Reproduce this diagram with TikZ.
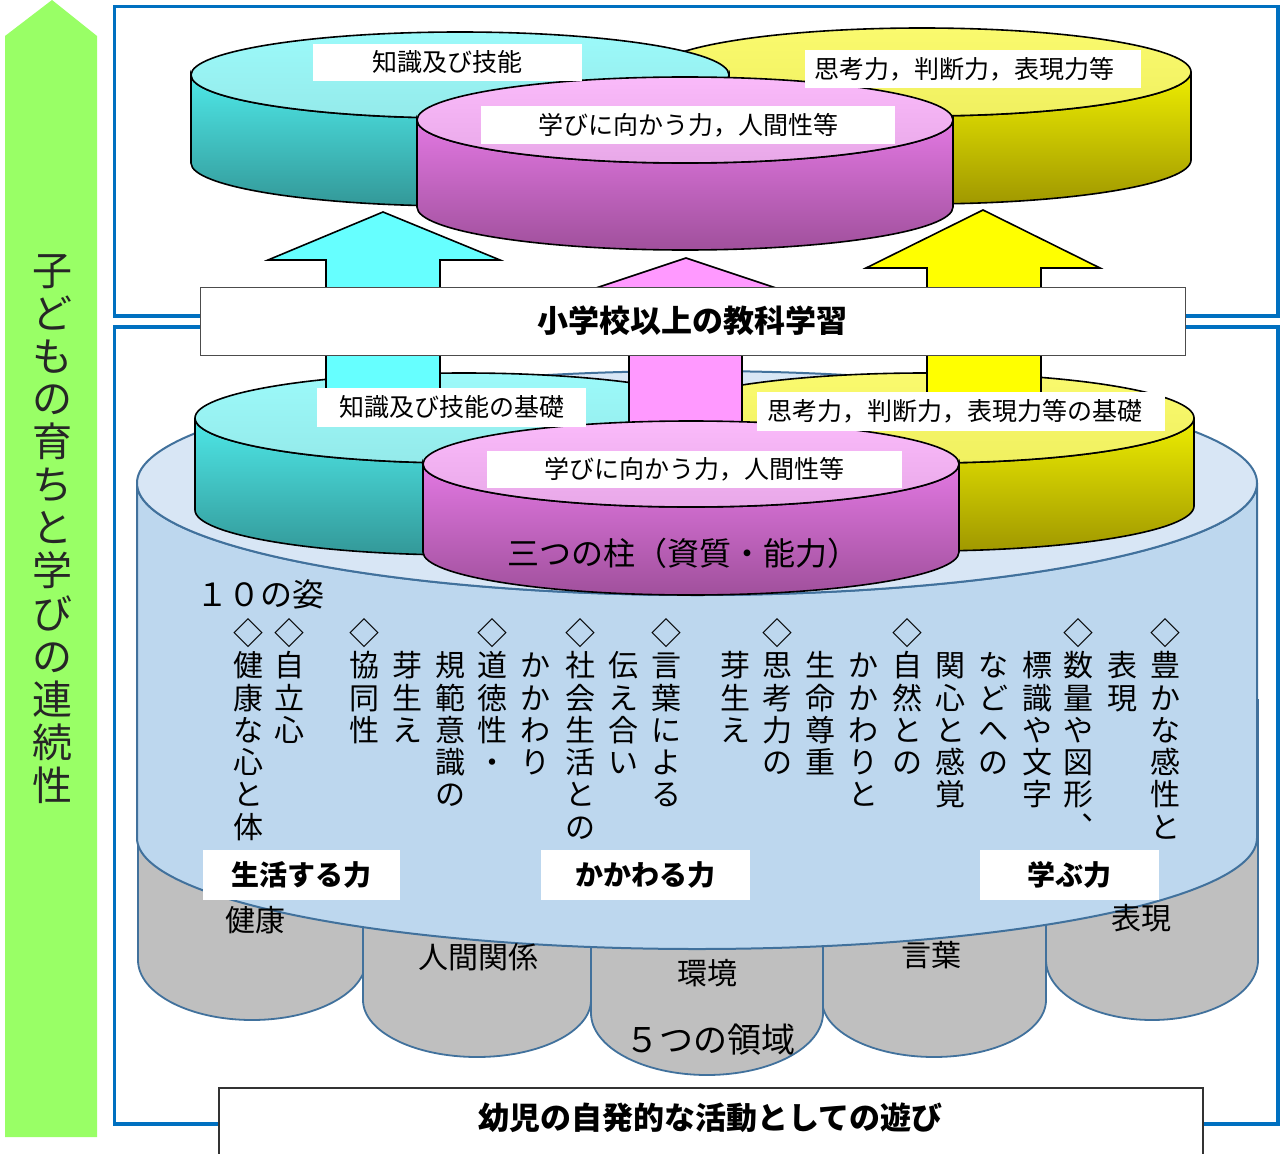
\documentclass[tikz,border=0pt]{standalone}
\usepackage{fontspec}
\setmainfont{Noto Sans CJK JP}
\definecolor{frameblue}{HTML}{0070C0}
\definecolor{cylblue}{HTML}{41719C}
\definecolor{bigtop}{HTML}{D8E6F5}
\definecolor{bigside}{HTML}{BDD7EE}
\definecolor{greyc}{HTML}{BFBFBF}
\definecolor{greenar}{HTML}{99FF66}
\definecolor{cyTa}{HTML}{9CFAFA}\definecolor{cyTb}{HTML}{94EAEA}
\definecolor{cySa}{HTML}{4EE8E8}\definecolor{cySb}{HTML}{339898}
\definecolor{yeTa}{HTML}{FAFA6E}\definecolor{yeTb}{HTML}{F0F060}
\definecolor{yeSa}{HTML}{EEEE00}\definecolor{yeSb}{HTML}{A09800}
\definecolor{maTa}{HTML}{FABAFA}\definecolor{maTb}{HTML}{E8A8E8}
\definecolor{maSa}{HTML}{E278E2}\definecolor{maSb}{HTML}{A0509C}
\definecolor{arcy}{HTML}{66FFFF}
\definecolor{arma}{HTML}{FF99FF}
\definecolor{arye}{HTML}{FFFF00}
\newcommand\mycyl[9]{%
  \path[draw=black,line width=1.6pt,top color=#8,bottom color=#9]
    ({#1-#3},#2) -- ({#1-#3},{#2+#5})
    arc[start angle=180,end angle=360,x radius=#3pt,y radius=#4pt]
    -- ({#1+#3},#2)
    arc[start angle=360,end angle=180,x radius=#3pt,y radius=#4pt] -- cycle;
  \path[draw=black,line width=1.6pt,top color=#6,bottom color=#7]
    (#1,#2) ellipse[x radius=#3pt,y radius=#4pt];}
\newcommand\greycyl[4]{%
  \path[draw=cylblue,line width=1.8pt,fill=greyc]
    ({#1-#3},700) -- ({#1-#3},#2)
    arc[start angle=180,end angle=360,x radius=#3pt,y radius=#4pt]
    -- ({#1+#3},700) -- cycle;}
\newcommand\vcol[4]{%
  \foreach \c [count=\i from #3] in {#4}
    \node[vch] (#1-\i) at (#2,{633+\i*32.3}) {\c};}
\tikzset{
  frame/.style={draw=frameblue,line width=3.6pt},
  wbox/.style={fill=white,inner sep=0pt},
  ftf/.style={font=\fontsize{25}{30}\selectfont},
  fbig/.style={font=\fontsize{32}{36}\selectfont},
  fgr/.style={font=\fontsize{30}{34}\selectfont},
  fbold/.style={font=\fontsize{28}{32}\selectfont\bfseries},
  fbold31/.style={font=\fontsize{31}{34}\selectfont\bfseries},
  vch/.style={font=\fontsize{30}{30}\selectfont,inner sep=0pt,text height=26.4pt,text depth=3.6pt},
  gch/.style={font=\fontsize{40}{40}\selectfont,inner sep=0pt,text height=35.2pt,text depth=4.8pt,text=black!85},
  blockar/.style={draw=black,line width=1.6pt,line join=miter}
}
\begin{document}
\begin{tikzpicture}[x=1pt,y=-1pt]
\useasboundingbox (0,0) rectangle (1281,1153);
\clip (0,0) rectangle (1281,1153);
% green arrow
\fill[greenar] (5,36) -- (52,0) -- (97,36) -- (97,1137) -- (5,1137) -- cycle;
\foreach \c [count=\i from 0] in {子,ど,も,の,育,ち,と,学,び,の,連,続,性}
  \node[gch] (g-\i) at (52,{270+\i*42.9}) {\c};
% frames
\draw[frame] (114.5,6.5) rectangle (1278,316);
\draw[frame] (114.5,327) rectangle (1278,1124);
% five domains
\greycyl{252}{960}{114}{60}
\greycyl{1152}{960}{106}{60}
\greycyl{477}{1000}{114}{57}
\greycyl{934}{1000}{112}{57}
\greycyl{707}{1013}{116}{62}
% big cylinder
\path[draw=cylblue,line width=2pt,fill=bigside]
  (137,483) -- (137,838) arc[start angle=180,end angle=360,x radius=560pt,y radius=111pt]
  -- (1257,483) arc[start angle=360,end angle=180,x radius=560pt,y radius=112pt] -- cycle;
\path[draw=cylblue,line width=2pt,fill=bigtop] (697,483) ellipse[x radius=560pt,y radius=112pt];
% bottom pillars (yellow behind cyan)
\mycyl{925}{418}{269}{45}{88}{yeTa}{yeTb}{yeSa}{yeSb}
\mycyl{464}{418}{269}{45}{92}{cyTa}{cyTb}{cySa}{cySb}
% arrows
\path[blockar,fill=arcy] (326,400) -- (326,260) -- (268,260) -- (383,212) -- (500,260) -- (440,260) -- (440,400) -- cycle;
\path[blockar,fill=arye] (927,400) -- (927,268) -- (866,268) -- (983,210) -- (1100,268) -- (1041,268) -- (1041,400) -- cycle;
\path[blockar,fill=arma] (629,450) -- (629,290) -- (590,290) -- (686,258) -- (782,290) -- (742,290) -- (742,450) -- cycle;
% bottom magenta pillar
\mycyl{691}{464}{268}{43}{88}{maTa}{maTb}{maSa}{maSb}
% top cylinders (yellow behind cyan, magenta in front)
\mycyl{922}{72}{269}{44}{88}{yeTa}{yeTb}{yeSa}{yeSb}
\mycyl{460}{75}{269}{43}{88}{cyTa}{cyTb}{cySa}{cySb}
\mycyl{685}{120}{268}{43}{87}{maTa}{maTb}{maSa}{maSb}
% labels top
\node[wbox,ftf,minimum width=269pt,minimum height=37pt] (tA) at (447.5,62.5) {知識及び技能};
\node[wbox,minimum width=336pt,minimum height=38pt] (tB) at (973,69) {};
\node[ftf] (tBt) at (964.5,69) {思考力，判断力，表現力等};
\node[wbox,ftf,minimum width=414pt,minimum height=38pt] (tC) at (688,125) {学びに向かう力，人間性等};
\node[wbox,draw=black!70,line width=1pt,fbold31,minimum width=985pt,minimum height=68pt] (sho) at (692.5,321) {小学校以上の教科学習};
% labels bottom pillars
\node[wbox,ftf,minimum width=269pt,minimum height=39pt] (bA) at (451.5,407.5) {知識及び技能の基礎};
\node[wbox,minimum width=408pt,minimum height=39pt] (bB) at (961,411.5) {};
\node[ftf] (bBt) at (954.5,411.5) {思考力，判断力，表現力等の基礎};
\node[wbox,ftf,minimum width=415pt,minimum height=37pt] (bC) at (694.5,469.5) {学びに向かう力，人間性等};
\node[fbig] (pillar) at (683.5,553) {三つの柱（資質・能力）};
\node[fbig] (ten) at (260.5,594) {１０の姿};
% ten figures columns
\vcol{k1}{1165}{0}{◇,豊,か,な,感,性,と}
\vcol{k2}{1122}{1}{表,現}
\vcol{k3}{1078}{0}{◇,数,量,や,図,形,︑}
\vcol{k4}{1037}{1}{標,識,や,文,字}
\vcol{k5}{993}{1}{な,ど,へ,の}
\vcol{k6}{950}{1}{関,心,と,感,覚}
\vcol{k7}{907}{0}{◇,自,然,と,の}
\vcol{k8}{863}{1}{か,か,わ,り,と}
\vcol{k9}{820}{1}{生,命,尊,重}
\vcol{k10}{777}{0}{◇,思,考,力,の}
\vcol{k11}{735}{1}{芽,生,え}
\vcol{k12}{666}{0}{◇,言,葉,に,よ,る}
\vcol{k13}{623}{1}{伝,え,合,い}
\vcol{k14}{580}{0}{◇,社,会,生,活,と,の}
\vcol{k15}{535}{1}{か,か,わ,り}
\vcol{k16}{492}{0}{◇,道,徳,性,・}
\vcol{k17}{450}{1}{規,範,意,識,の}
\vcol{k18}{407}{1}{芽,生,え}
\vcol{k19}{364}{0}{◇,協,同,性}
\vcol{k20}{289}{0}{◇,自,立,心}
\vcol{k21}{248}{0}{◇,健,康,な,心,と,体}
% three powers
\node[wbox,fbold,minimum width=197pt,minimum height=50pt] (s1) at (301.5,875) {生活する力};
\node[wbox,fbold,minimum width=209pt,minimum height=50pt] (s2) at (645.5,875) {かかわる力};
\node[wbox,fbold,minimum width=179pt,minimum height=50pt] (s3) at (1069.5,875) {学ぶ力};
% domain labels
\node[fgr] (d1) at (255,920) {健康};
\node[fgr] (d2) at (478,957) {人間関係};
\node[fgr] (d3) at (707,973) {環境};
\node[fgr] (d4) at (931,955) {言葉};
\node[fgr] (d5) at (1141,918) {表現};
\node[font=\fontsize{34}{38}\selectfont] (five) at (710,1040) {５つの領域};
% play box
\node[wbox,draw=black!80,line width=1.2pt,minimum width=984pt,minimum height=84pt] (play) at (711,1130) {};
\node[fbold31] (playt) at (710.5,1118) {幼児の自発的な活動としての遊び};
\end{tikzpicture}
\end{document}
